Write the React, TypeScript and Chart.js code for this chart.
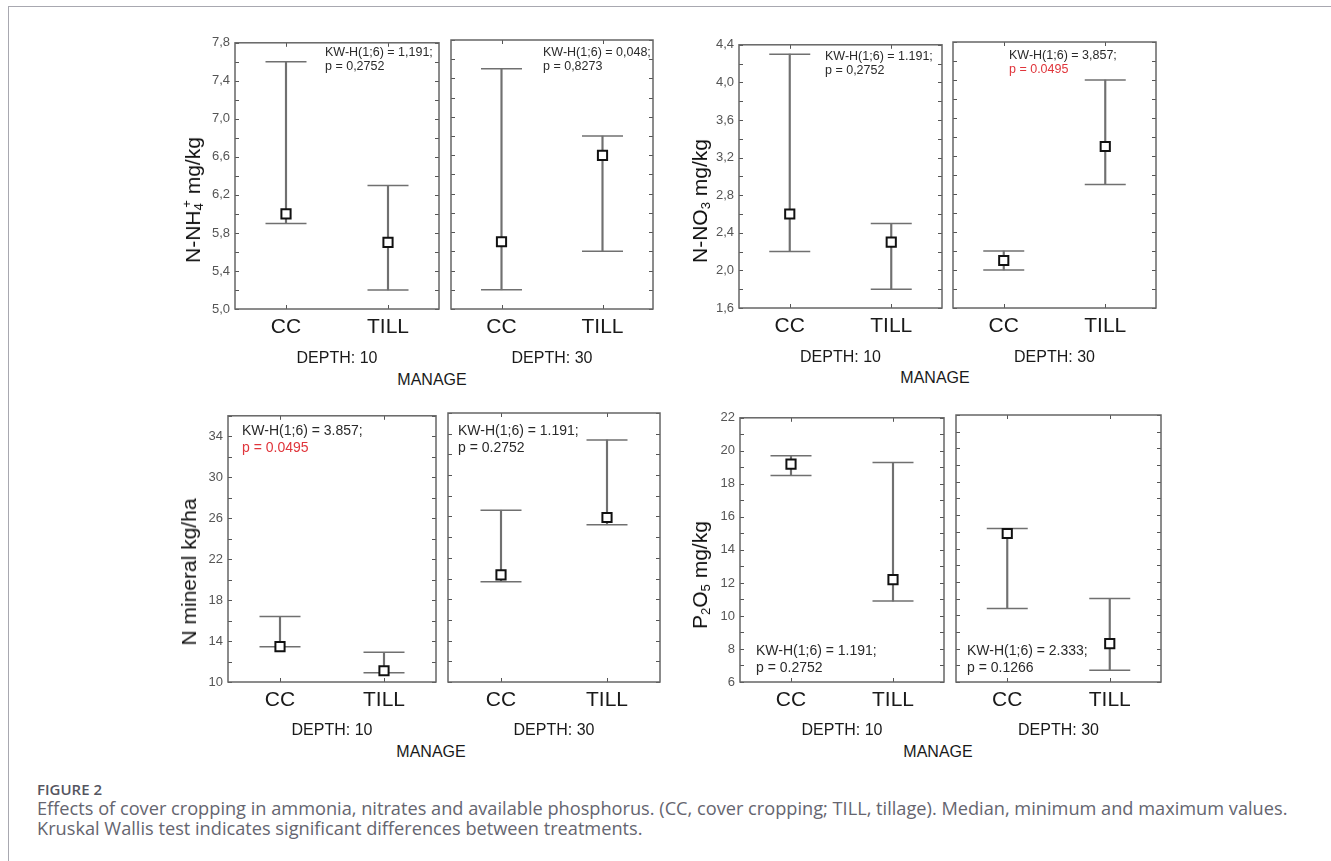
import React, { useEffect, useRef } from 'react';
import { Chart, registerables } from 'chart.js';

Chart.register(...registerables);

// ---------------- DATA ----------------
const categories = ['CC', 'TILL'];
const depthLabels = ['DEPTH: 10', 'DEPTH: 30'];

// N-NH4+ mg/kg
const nh4Median10 = [6.0, 5.7];
const nh4Min10 = [5.9, 5.2];
const nh4Max10 = [7.6, 6.3];
const nh4Median30 = [5.7, 6.6];
const nh4Min30 = [5.2, 5.6];
const nh4Max30 = [7.5, 6.8];

// N-NO3 mg/kg
const no3Median10 = [2.6, 2.3];
const no3Min10 = [2.2, 1.8];
const no3Max10 = [4.3, 2.5];
const no3Median30 = [2.1, 3.3];
const no3Min30 = [2.0, 2.9];
const no3Max30 = [2.2, 4.0];

// N mineral kg/ha
const nminMedian10 = [13.45, 11.1];
const nminMin10 = [13.45, 10.9];
const nminMax10 = [16.4, 12.9];
const nminMedian30 = [20.35, 25.9];
const nminMin30 = [19.7, 25.2];
const nminMax30 = [26.6, 33.4];

// P2O5 mg/kg
const p2o5Median10 = [19.2, 12.2];
const p2o5Min10 = [18.5, 10.9];
const p2o5Max10 = [19.7, 19.3];
const p2o5Median30 = [14.9, 8.3];
const p2o5Min30 = [10.4, 6.7];
const p2o5Max30 = [15.2, 11.0];

// Kruskal-Wallis annotations
const kwNh4 = [['KW-H(1;6) = 1,191;', 'p = 0,2752'], ['KW-H(1;6) = 0,048;', 'p = 0,8273']];
const kwNo3 = [['KW-H(1;6) = 1.191;', 'p = 0,2752'], ['KW-H(1;6) = 3,857;', 'p = 0.0495']];
const kwNmin = [['KW-H(1;6) = 3.857;', 'p = 0.0495'], ['KW-H(1;6) = 1.191;', 'p = 0.2752']];
const kwP2o5 = [['KW-H(1;6) = 1.191;', 'p = 0.2752'], ['KW-H(1;6) = 2.333;', 'p = 0.1266']];
const kwSignificant = [[false, false], [false, true], [true, false], [false, false]];

const figureLabel = 'FIGURE 2';
const captionLines = [
  'Effects of cover cropping in ammonia, nitrates and available phosphorus. (CC, cover cropping; TILL, tillage). Median, minimum and maximum values.',
  'Kruskal Wallis test indicates significant differences between treatments.',
];

// ---------------- STYLE ----------------
const FONT = "'Liberation Sans', Arial, sans-serif";
const LINE_GRAY = '#707070';
const PAD = { left: 2, right: 2, top: 10 };
const AXIS_W = 45;

type Box = { left: number; top: number; right: number; bottom: number };

const boxPlugin = {
  id: 'boxPlugin',
  beforeDatasetsDraw(chart: any) {
    const { ctx, chartArea: a, scales } = chart;
    ctx.save();
    ctx.strokeStyle = '#555';
    ctx.lineWidth = 1;
    const ys = scales.y;
    ys.ticks.forEach((t: any) => {
      const py = Math.round(ys.getPixelForValue(t.value)) + 0.5;
      ctx.beginPath();
      ctx.moveTo(a.left, py);
      ctx.lineTo(a.left + 4, py);
      ctx.moveTo(a.right - 4, py);
      ctx.lineTo(a.right, py);
      ctx.stroke();
    });
    const xs = scales.x;
    xs.ticks.forEach((_t: any, i: number) => {
      const px = Math.round(xs.getPixelForTick(i)) + 0.5;
      ctx.beginPath();
      ctx.moveTo(px, a.top);
      ctx.lineTo(px, a.top + 4);
      ctx.moveTo(px, a.bottom - 4);
      ctx.lineTo(px, a.bottom);
      ctx.stroke();
    });
    ctx.strokeStyle = '#666';
    ctx.lineWidth = 1.5;
    ctx.strokeRect(a.left, a.top, a.right - a.left, a.bottom - a.top);
    ctx.restore();
  },
};

interface SubProps {
  box: Box;
  showY: boolean;
  yMin: number;
  yMax: number;
  minorStep: number;
  labelStep: number;
  comma: boolean;
  decimals: number;
  median: number[];
  min: number[];
  max: number[];
  depth: string;
  depthY: number;
}

function SubChart(p: SubProps) {
  const ref = useRef<HTMLCanvasElement>(null);
  const L = p.showY ? AXIS_W : 0;
  const canvasLeft = p.box.left - L - PAD.left;
  const canvasTop = p.box.top - PAD.top;
  const canvasBottom = Math.round(p.depthY + 10);
  const width = p.box.right + PAD.right - canvasLeft;
  const height = canvasBottom - canvasTop;
  const xAxisH = canvasBottom - p.box.bottom;

  useEffect(() => {
    const fmt = (v: number) => {
      const s = v.toFixed(p.decimals);
      return p.comma ? s.replace('.', ',') : s;
    };
    const chart = new Chart(ref.current as HTMLCanvasElement, {
      type: 'bar',
      data: {
        labels: categories,
        datasets: [
          {
            type: 'line',
            data: p.median,
            showLine: false,
            pointStyle: 'rect',
            pointRadius: 6.5,
            pointBorderWidth: 2,
            pointBorderColor: '#111',
            pointBackgroundColor: '#fff',
            order: 1,
          } as any,
          {
            type: 'line',
            data: p.max,
            showLine: false,
            pointStyle: 'line',
            pointRadius: 20.5,
            pointBorderWidth: 1.5,
            pointBorderColor: LINE_GRAY,
            order: 2,
          } as any,
          {
            type: 'line',
            data: p.min,
            showLine: false,
            pointStyle: 'line',
            pointRadius: 20.5,
            pointBorderWidth: 1.5,
            pointBorderColor: LINE_GRAY,
            order: 2,
          } as any,
          {
            type: 'bar',
            data: p.min.map((m, i) => [m, p.max[i]]),
            backgroundColor: LINE_GRAY,
            borderWidth: 0,
            barThickness: 1.5,
            order: 3,
          } as any,
        ],
      },
      options: {
        responsive: false,
        animation: false,
        devicePixelRatio: 1,
        events: [],
        layout: { autoPadding: false, padding: { left: PAD.left, right: PAD.right, top: PAD.top, bottom: 0 } },
        plugins: { legend: { display: false }, tooltip: { enabled: false } },
        scales: {
          x: {
            type: 'category',
            offset: true,
            grid: { display: false, drawTicks: false },
            border: { display: false },
            ticks: {
              padding: 6,
              autoSkip: false,
              maxRotation: 0,
              color: '#1a1a1a',
              font: { family: FONT, size: 21 },
            },
            title: {
              display: true,
              text: p.depth,
              color: '#1a1a1a',
              padding: 0,
              font: { family: FONT, size: 16 },
            },
            afterFit: (s: any) => {
              s.height = xAxisH;
            },
          },
          y: {
            type: 'linear',
            min: p.yMin,
            max: p.yMax,
            grid: { display: false, drawTicks: false },
            border: { display: false },
            ticks: {
              display: p.showY,
              stepSize: p.minorStep,
              autoSkip: false,
              padding: 5,
              color: '#555',
              font: { family: FONT, size: 13 },
              callback: (v: any) => {
                const r = (Number(v) - p.yMin) / p.labelStep;
                return Math.abs(r - Math.round(r)) < 1e-6 ? fmt(Number(v)) : '';
              },
            },
            afterFit: (s: any) => {
              s.width = L;
            },
          },
        },
      } as any,
      plugins: [boxPlugin],
    });
    return () => chart.destroy();
  }, []);

  return (
    <canvas
      ref={ref}
      width={width}
      height={height}
      style={{ position: 'absolute', left: canvasLeft, top: canvasTop, width, height }}
    />
  );
}

function Abs(props: { left: number; top: number; style?: React.CSSProperties; children: React.ReactNode }) {
  return (
    <div style={{ position: 'absolute', left: props.left, top: props.top, whiteSpace: 'nowrap', ...props.style }}>
      {props.children}
    </div>
  );
}

function KW(props: { left: number; cy: number; size: number; lh: number; lines: string[]; sig: boolean }) {
  return (
    <Abs
      left={props.left}
      top={props.cy - props.lh / 2}
      style={{ fontFamily: FONT, fontSize: props.size, lineHeight: props.lh + 'px', color: '#2a2a2a' }}
    >
      <div>{props.lines[0]}</div>
      <div style={{ color: props.sig ? '#e0353b' : '#2a2a2a' }}>{props.lines[1]}</div>
    </Abs>
  );
}

function YTitle(props: { cx: number; cy: number; children: React.ReactNode }) {
  return (
    <div
      style={{
        position: 'absolute',
        left: props.cx,
        top: props.cy,
        transform: 'translate(-50%, -50%) rotate(-90deg)',
        whiteSpace: 'nowrap',
        fontFamily: FONT,
        fontSize: 21,
        lineHeight: '24px',
        color: '#111',
      }}
    >
      {props.children}
    </div>
  );
}

function Manage(props: { cx: number; cy: number }) {
  return (
    <div
      style={{
        position: 'absolute',
        left: props.cx,
        top: props.cy - 10,
        transform: 'translateX(-50%)',
        fontFamily: FONT,
        fontSize: 16,
        lineHeight: '20px',
        color: '#1a1a1a',
        whiteSpace: 'nowrap',
      }}
    >
      MANAGE
    </div>
  );
}

const subStyle: React.CSSProperties = { fontSize: '0.62em', verticalAlign: '-0.25em', lineHeight: 0 };
const supStyle: React.CSSProperties = { fontSize: '0.62em', verticalAlign: '0.7em', lineHeight: 0 };

export default function App() {
  return (
    <div
      style={{
        position: 'absolute',
        left: 0,
        top: 0,
        width: 1331,
        height: 861,
        background: '#fff',
        overflow: 'hidden',
      }}
    >
      {/* frame */}
      <div style={{ position: 'absolute', left: 8, top: 6, width: 1323, height: 0, borderTop: '1.5px solid #a8a8b0' }} />
      <div style={{ position: 'absolute', left: 8, top: 6, width: 0, height: 855, borderLeft: '1.5px solid #a8a8b0' }} />

      {/* Panel 1: N-NH4+ */}
      <SubChart box={{ left: 235, top: 40, right: 439, bottom: 309 }} showY yMin={5.0} yMax={7.8} minorStep={0.2} labelStep={0.4} comma decimals={1}
        median={nh4Median10} min={nh4Min10} max={nh4Max10} depth={depthLabels[0]} depthY={358} />
      <SubChart box={{ left: 451, top: 40, right: 653, bottom: 309 }} showY={false} yMin={5.0} yMax={7.8} minorStep={0.2} labelStep={0.4} comma decimals={1}
        median={nh4Median30} min={nh4Min30} max={nh4Max30} depth={depthLabels[1]} depthY={358} />
      <KW left={325} cy={52} size={12.5} lh={14} lines={kwNh4[0]} sig={kwSignificant[0][0]} />
      <KW left={543} cy={52} size={12.5} lh={14} lines={kwNh4[1]} sig={kwSignificant[0][1]} />
      <YTitle cx={193} cy={200}>
        N-NH<span style={subStyle}>4</span><span style={{ ...supStyle, marginLeft: '-0.35em' }}>+</span> mg/kg
      </YTitle>
      <Manage cx={432} cy={380} />

      {/* Panel 2: N-NO3 */}
      <SubChart box={{ left: 739, top: 42, right: 942, bottom: 308 }} showY yMin={1.6} yMax={4.4} minorStep={0.2} labelStep={0.4} comma decimals={1}
        median={no3Median10} min={no3Min10} max={no3Max10} depth={depthLabels[0]} depthY={357} />
      <SubChart box={{ left: 953, top: 42, right: 1156, bottom: 308 }} showY={false} yMin={1.6} yMax={4.4} minorStep={0.2} labelStep={0.4} comma decimals={1}
        median={no3Median30} min={no3Min30} max={no3Max30} depth={depthLabels[1]} depthY={357} />
      <KW left={825} cy={56} size={12.5} lh={14} lines={kwNo3[0]} sig={kwSignificant[1][0]} />
      <KW left={1009} cy={55} size={12.5} lh={14} lines={kwNo3[1]} sig={kwSignificant[1][1]} />
      <YTitle cx={700} cy={201}>
        N-NO<span style={subStyle}>3</span> mg/kg
      </YTitle>
      <Manage cx={935} cy={378} />

      {/* Panel 3: N mineral */}
      <SubChart box={{ left: 228, top: 413, right: 436, bottom: 682 }} showY yMin={10} yMax={36} minorStep={2} labelStep={4} comma={false} decimals={0}
        median={nminMedian10} min={nminMin10} max={nminMax10} depth={depthLabels[0]} depthY={730} />
      <SubChart box={{ left: 448, top: 413, right: 660, bottom: 682 }} showY={false} yMin={10} yMax={36} minorStep={2} labelStep={4} comma={false} decimals={0}
        median={nminMedian30} min={nminMin30} max={nminMax30} depth={depthLabels[1]} depthY={730} />
      <KW left={242} cy={430} size={14} lh={17} lines={kwNmin[0]} sig={kwSignificant[2][0]} />
      <KW left={458} cy={430} size={14} lh={17} lines={kwNmin[1]} sig={kwSignificant[2][1]} />
      <YTitle cx={189} cy={572}>N mineral kg/ha</YTitle>
      <Manage cx={431} cy={752} />

      {/* Panel 4: P2O5 */}
      <SubChart box={{ left: 740, top: 415, right: 944, bottom: 682 }} showY yMin={6} yMax={22} minorStep={1} labelStep={2} comma={false} decimals={0}
        median={p2o5Median10} min={p2o5Min10} max={p2o5Max10} depth={depthLabels[0]} depthY={730} />
      <SubChart box={{ left: 956, top: 415, right: 1161, bottom: 682 }} showY={false} yMin={6} yMax={22} minorStep={1} labelStep={2} comma={false} decimals={0}
        median={p2o5Median30} min={p2o5Min30} max={p2o5Max30} depth={depthLabels[1]} depthY={730} />
      <KW left={756} cy={650} size={14} lh={17} lines={kwP2o5[0]} sig={kwSignificant[3][0]} />
      <KW left={967} cy={650} size={14} lh={17} lines={kwP2o5[1]} sig={kwSignificant[3][1]} />
      <YTitle cx={700} cy={575}>
        P<span style={subStyle}>2</span>O<span style={subStyle}>5</span> mg/kg
      </YTitle>
      <Manage cx={938} cy={752} />

      {/* Caption */}
      <Abs left={37} top={779} style={{ fontFamily: "'Open Sans', sans-serif", fontSize: 15, fontWeight: 600, color: '#55555f', lineHeight: '20px' }}>
        {figureLabel}
      </Abs>
      <Abs left={37} top={798} style={{ fontFamily: "'Open Sans', sans-serif", fontSize: 18.2, color: '#65656f', lineHeight: '20px' }}>
        <div>{captionLines[0]}</div>
        <div>{captionLines[1]}</div>
      </Abs>
    </div>
  );
}
